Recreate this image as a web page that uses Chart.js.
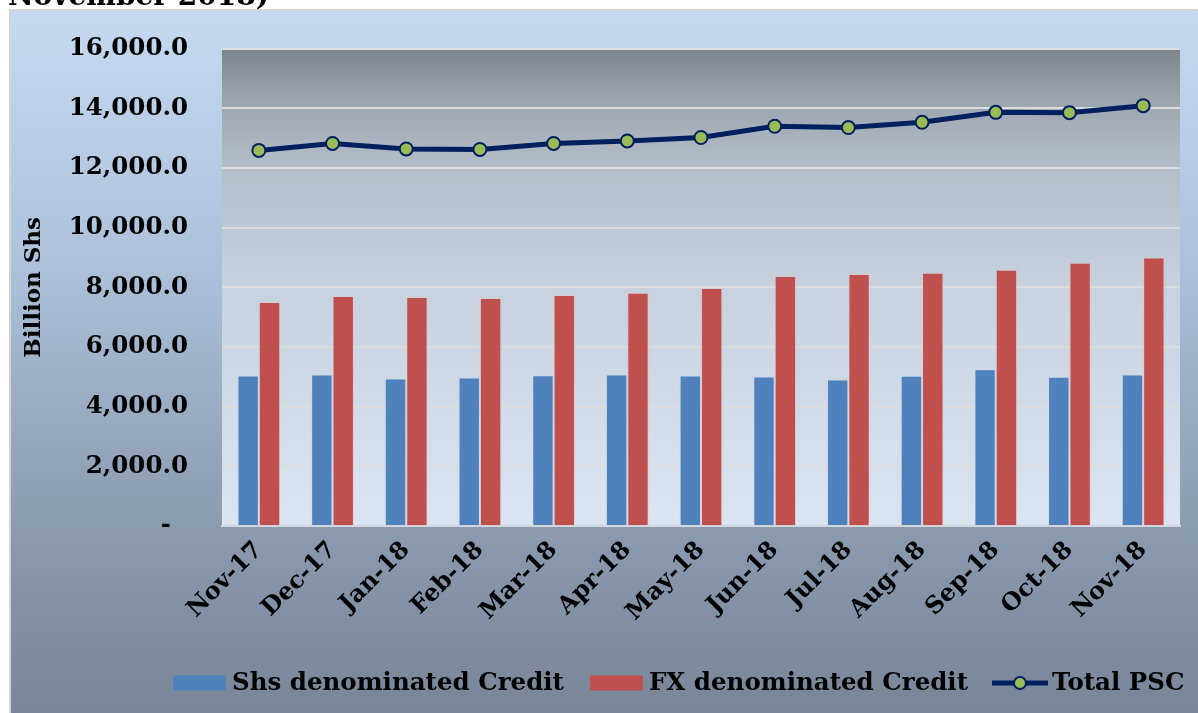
<!DOCTYPE html>
<html>
<head>
<meta charset="utf-8">
<script src="https://cdn.jsdelivr.net/npm/chart.js@4/dist/chart.umd.min.js"></script>
<style>
  html, body { margin: 0; padding: 0; background: #ffffff; }
  #wrap { position: relative; width: 1198px; height: 713px; overflow: hidden; }
  canvas { display: block; }
</style>
</head>
<body>
<div id="wrap"><canvas id="c" width="1198" height="713"></canvas></div>
<script>
const categories = ['Nov-17','Dec-17','Jan-18','Feb-18','Mar-18','Apr-18','May-18','Jun-18','Jul-18','Aug-18','Sep-18','Oct-18','Nov-18'];
const shsCredit = [5047, 5080, 4947, 4980, 5057, 5080, 5047, 5013, 4913, 5033, 5257, 5000, 5080];
const fxCredit = [7513, 7713, 7680, 7647, 7747, 7823, 7980, 8380, 8447, 8490, 8590, 8823, 9000];
const totalPSC = [12590, 12823, 12640, 12623, 12823, 12907, 13023, 13400, 13357, 13533, 13867, 13857, 14090];
const yTickValues = [0, 2000, 4000, 6000, 8000, 10000, 12000, 14000, 16000];
const yTickLabels = ['-  ', '2,000.0', '4,000.0', '6,000.0', '8,000.0', '10,000.0', '12,000.0', '14,000.0', '16,000.0'];
const seriesNames = ['Shs denominated Credit', 'FX denominated Credit', 'Total PSC'];
const headingText = 'November 2018)';

const FONT = '"DejaVu Serif", "Liberation Serif", serif';
const BLUE = '#4f81bd', RED = '#c0504d', NAVY = '#002060', GREEN = '#9bbb59';

const bgPlugin = {
  id: 'bg',
  beforeDraw(chart) {
    const ctx = chart.ctx, W = chart.width, H = chart.height;
    ctx.save();
    ctx.fillStyle = '#ffffff';
    ctx.fillRect(0, 0, W, H);
    ctx.fillStyle = '#000000';
    ctx.font = 'bold 28px ' + FONT;
    ctx.textBaseline = 'alphabetic';
    ctx.textAlign = 'left';
    ctx.fillText(headingText, 8, 5);
    const g = ctx.createLinearGradient(0, 10, 0, H);
    g.addColorStop(0, '#c6d9f1');
    g.addColorStop(0.35, '#aec2dc');
    g.addColorStop(0.72, '#8c9cb1');
    g.addColorStop(1, '#798597');
    ctx.fillStyle = g;
    ctx.fillRect(10, 10, W - 10, H - 10);
    ctx.strokeStyle = '#d4d4d4';
    ctx.lineWidth = 2;
    ctx.beginPath();
    ctx.moveTo(10, H); ctx.lineTo(10, 10); ctx.lineTo(W, 10);
    ctx.stroke();
    const a = chart.chartArea;
    const pg = ctx.createLinearGradient(0, a.top, 0, a.bottom);
    pg.addColorStop(0, '#7e848c');
    pg.addColorStop(0.1, '#9ba3ad');
    pg.addColorStop(0.25, '#b4bec9');
    pg.addColorStop(0.5, '#c7d2de');
    pg.addColorStop(1, '#dbe5f1');
    ctx.fillStyle = pg;
    ctx.fillRect(a.left, a.top, a.right - a.left, a.bottom - a.top);
    ctx.restore();
  }
};

const legendPlugin = {
  id: 'customLegend',
  afterDraw(chart) {
    const ctx = chart.ctx;
    ctx.save();
    ctx.font = 'bold 24.5px ' + FONT;
    ctx.textBaseline = 'middle';
    ctx.textAlign = 'left';
    const cy = 683;
    let x = 173;
    const boxW = 53, boxH = 15, gapText = 6;
    const gaps = [26, 24];
    const colors = [BLUE, RED];
    for (let i = 0; i < 2; i++) {
      ctx.fillStyle = colors[i];
      ctx.fillRect(x, cy - boxH / 2, boxW, boxH);
      x += boxW + gapText;
      ctx.fillStyle = '#000000';
      ctx.fillText(seriesNames[i], x, cy + 1);
      x += ctx.measureText(seriesNames[i]).width + gaps[i];
    }
    ctx.strokeStyle = NAVY;
    ctx.lineWidth = 5;
    ctx.beginPath();
    ctx.moveTo(x, cy); ctx.lineTo(x + 56, cy);
    ctx.stroke();
    ctx.beginPath();
    ctx.arc(x + 28, cy, 6, 0, Math.PI * 2);
    ctx.fillStyle = GREEN;
    ctx.fill();
    ctx.lineWidth = 2;
    ctx.stroke();
    x += 56 + 4;
    ctx.fillStyle = '#000000';
    ctx.fillText(seriesNames[2], x, cy + 1);
    ctx.restore();
  }
};

new Chart(document.getElementById('c'), {
  data: {
    labels: categories,
    datasets: [
      {
        type: 'line', label: seriesNames[2], data: totalPSC, order: 0,
        borderColor: NAVY, borderWidth: 5, backgroundColor: GREEN,
        pointRadius: 6.5, pointBackgroundColor: GREEN, pointBorderColor: NAVY,
        pointBorderWidth: 2, tension: 0, fill: false
      },
      {
        type: 'bar', label: seriesNames[0], data: shsCredit, order: 1,
        backgroundColor: BLUE, borderColor: 'rgba(200,210,230,0.5)', borderWidth: 1,
        categoryPercentage: 0.58, barPercentage: 1.0
      },
      {
        type: 'bar', label: seriesNames[1], data: fxCredit, order: 2,
        backgroundColor: RED, borderColor: 'rgba(225,190,195,0.5)', borderWidth: 1,
        categoryPercentage: 0.58, barPercentage: 1.0
      }
    ]
  },
  options: {
    responsive: false,
    animation: false,
    devicePixelRatio: 1,
    layout: { padding: { left: 10, right: 18, top: 42, bottom: 87 } },
    plugins: { legend: { display: false }, tooltip: { enabled: false } },
    scales: {
      x: {
        grid: { display: false, drawTicks: false },
        border: { display: true, color: '#d3d7dd', width: 2 },
        ticks: {
          color: '#000000', font: { family: FONT, size: 24, weight: 'bold' },
          minRotation: 45, maxRotation: 45, padding: 10, autoSkip: false
        },
        afterFit(scale) { scale.height = 100; }
      },
      y: {
        min: 0, max: 16000,
        afterBuildTicks(scale) { scale.ticks = yTickValues.map(v => ({ value: v })); },
        grid: { color: '#dcdcdc', lineWidth: 2, drawTicks: false },
        border: { display: false },
        ticks: {
          color: '#000000', font: { family: FONT, size: 24.5, weight: 'bold' },
          padding: 34,
          callback(value) { const i = yTickValues.indexOf(value); return i >= 0 ? yTickLabels[i] : ''; }
        },
        title: {
          display: true, text: 'Billion Shs', color: '#000000',
          font: { family: FONT, size: 23, weight: 'bold' },
          padding: { top: 10, bottom: 0 }
        },
        afterFit(scale) { scale.width = 212; }
      }
    }
  },
  plugins: [bgPlugin, legendPlugin]
});
</script>
</body>
</html>
